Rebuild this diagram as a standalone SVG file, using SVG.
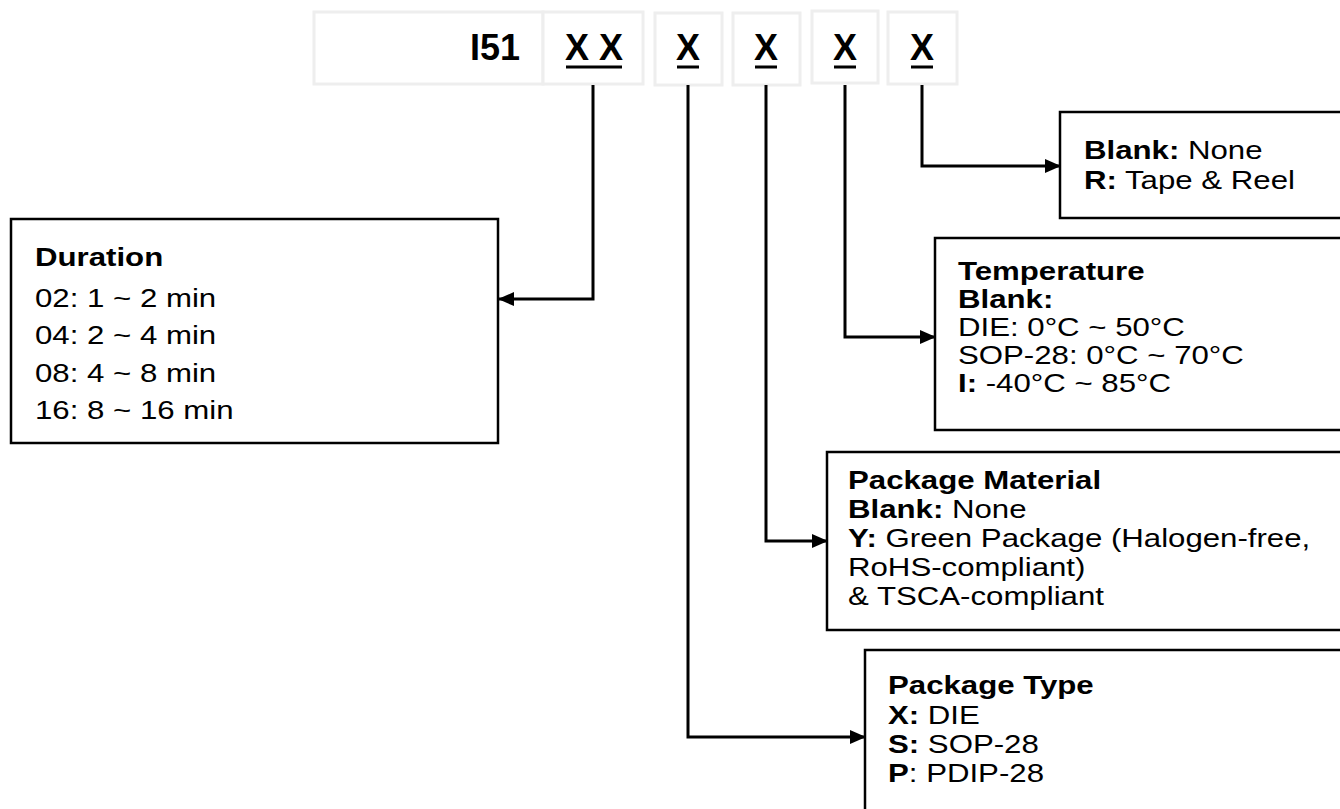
<svg xmlns="http://www.w3.org/2000/svg" width="1340" height="809" viewBox="0 0 1340 809">
<style>
.tb{fill:#fff;stroke:#eeeeee;stroke-width:3}
.bx{fill:#fff;stroke:#000;stroke-width:2.5}
.hd{font-family:"Liberation Sans",Arial,sans-serif;font-weight:bold;font-size:36px;fill:#000}
.t{font-family:"Liberation Sans",Arial,sans-serif;font-size:26px;fill:#000}
.b{font-weight:bold}
.ul{fill:#000}
.cn{fill:none;stroke:#000;stroke-width:3}
</style>
<defs>
<marker id="ah" viewBox="0 0 16 14" markerWidth="16" markerHeight="14" refX="15" refY="7" orient="auto" markerUnits="userSpaceOnUse"><path d="M0,0 L16,7 L0,14 z" fill="#000"/></marker>
</defs>
<rect width="1340" height="809" fill="#fff"/>

<g id="code">
<rect class="tb" x="314" y="12" width="229" height="72"/>
<text class="hd" x="520" y="60" text-anchor="end">I51</text>
<rect class="tb" x="543" y="12" width="100" height="72"/>
<text class="hd" x="594" y="60" text-anchor="middle">X X</text>
<rect class="ul" x="566" y="65.5" width="56" height="3"/>
<rect class="tb" x="655" y="13" width="67" height="72"/>
<text class="hd" x="688" y="60" text-anchor="middle">X</text>
<rect class="ul" x="677" y="65.5" width="22" height="3"/>
<rect class="tb" x="733" y="13" width="67" height="72"/>
<text class="hd" x="766" y="60" text-anchor="middle">X</text>
<rect class="ul" x="755" y="65.5" width="22" height="3"/>
<rect class="tb" x="812" y="11" width="66" height="72"/>
<text class="hd" x="845" y="60" text-anchor="middle">X</text>
<rect class="ul" x="834" y="65.5" width="22" height="3"/>
<rect class="tb" x="888" y="12" width="69" height="72"/>
<text class="hd" x="922" y="60" text-anchor="middle">X</text>
<rect class="ul" x="911" y="65.5" width="22" height="3"/>
</g>

<g id="connectors">
<path class="cn" d="M593,85 V299 H499" marker-end="url(#ah)"/>
<path class="cn" d="M688,85 V737 H865" marker-end="url(#ah)"/>
<path class="cn" d="M766,85 V541 H827" marker-end="url(#ah)"/>
<path class="cn" d="M845,85 V337 H935" marker-end="url(#ah)"/>
<path class="cn" d="M922,85 V166 H1060" marker-end="url(#ah)"/>
</g>

<g id="duration">
<rect class="bx" x="11" y="219" width="487" height="224"/>
<g transform="translate(35,0) scale(1.2,1)">
<text class="t b" x="0" y="266">Duration</text>
<text class="t" x="0" y="307">02: 1 ~ 2 min</text>
<text class="t" x="0" y="344">04: 2 ~ 4 min</text>
<text class="t" x="0" y="382">08: 4 ~ 8 min</text>
<text class="t" x="0" y="419">16: 8 ~ 16 min</text>
</g>
</g>

<g id="tape">
<rect class="bx" x="1060" y="112" width="300" height="106"/>
<g transform="translate(1084,0) scale(1.2,1)">
<text class="t" x="0" y="159"><tspan class="b">Blank:</tspan> None</text>
<text class="t" x="0" y="189"><tspan class="b">R:</tspan> Tape &amp; Reel</text>
</g>
</g>

<g id="temperature">
<rect class="bx" x="935" y="238" width="420" height="192"/>
<g transform="translate(958,0) scale(1.2,1)">
<text class="t b" x="0" y="280">Temperature</text>
<text class="t b" x="0" y="308">Blank:</text>
<text class="t" x="0" y="336">DIE: 0°C ~ 50°C</text>
<text class="t" x="0" y="364">SOP-28: 0°C ~ 70°C</text>
<text class="t" x="0" y="392"><tspan class="b">I:</tspan> -40°C ~ 85°C</text>
</g>
</g>

<g id="material">
<rect class="bx" x="827" y="452" width="530" height="178"/>
<g transform="translate(848,0) scale(1.2,1)">
<text class="t b" x="0" y="489">Package Material</text>
<text class="t" x="0" y="518"><tspan class="b">Blank:</tspan> None</text>
<text class="t" x="0" y="547"><tspan class="b">Y:</tspan> Green Package (Halogen-free,</text>
<text class="t" x="0" y="576">RoHS-compliant)</text>
<text class="t" x="0" y="605">&amp; TSCA-compliant</text>
</g>
</g>

<g id="type">
<rect class="bx" x="865" y="650" width="500" height="200"/>
<g transform="translate(888,0) scale(1.2,1)">
<text class="t b" x="0" y="694">Package Type</text>
<text class="t" x="0" y="724"><tspan class="b">X:</tspan> DIE</text>
<text class="t" x="0" y="753"><tspan class="b">S:</tspan> SOP-28</text>
<text class="t" x="0" y="782"><tspan class="b">P</tspan>: PDIP-28</text>
</g>
</g>
</svg>
